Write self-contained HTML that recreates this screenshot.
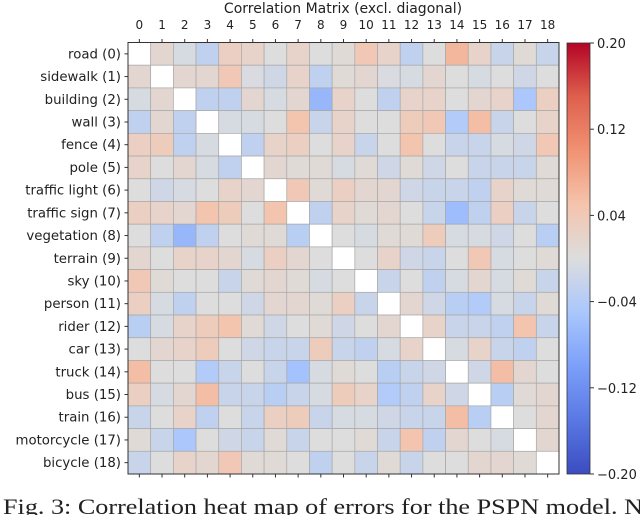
<!DOCTYPE html>
<html><head><meta charset="utf-8"><style>
body{margin:0;width:640px;height:515px;background:#fff;overflow:hidden;}
svg text{font-family:"DejaVu Sans","Liberation Sans",sans-serif;}
</style></head><body>
<svg id="chart" width="640" height="515" xmlns="http://www.w3.org/2000/svg">
<defs>
<linearGradient id="cbg" x1="0" y1="1" x2="0" y2="0">
<stop offset="0" stop-color="rgb(59,76,192)"/>
<stop offset="0.125" stop-color="rgb(90,120,228)"/>
<stop offset="0.25" stop-color="rgb(124,159,249)"/>
<stop offset="0.375" stop-color="rgb(170,199,253)"/>
<stop offset="0.5" stop-color="rgb(221,221,221)"/>
<stop offset="0.625" stop-color="rgb(244,196,173)"/>
<stop offset="0.75" stop-color="rgb(241,146,115)"/>
<stop offset="0.875" stop-color="rgb(222,96,77)"/>
<stop offset="1" stop-color="rgb(180,4,38)"/>
</linearGradient>
</defs>
<text x="343" y="13" font-size="14" text-anchor="middle" fill="#222">Correlation Matrix (excl. diagonal)</text>
<g id="cells"></g>
<g id="axes"></g>
<rect x="567" y="43" width="23" height="431" fill="url(#cbg)" stroke="#333" stroke-width="0.8"/>
<g id="cbticks"></g>
<text x="3" y="514" font-size="22" textLength="640" lengthAdjust="spacingAndGlyphs" fill="#222" style="font-family:'Liberation Serif',serif">Fig. 3: Correlation heat map of errors for the PSPN model. N</text>
</svg>
<script>
const categories=["road (0)","sidewalk (1)","building (2)","wall (3)","fence (4)","pole (5)","traffic light (6)","traffic sign (7)","vegetation (8)","terrain (9)","sky (10)","person (11)","rider (12)","car (13)","truck (14)","bus (15)","train (16)","motorcycle (17)","bicycle (18)"];
const row0=[null,0.014,-0.007,-0.028,0.028,0.021,0,0.021,0,0.007,0.042,0.021,-0.028,0,0.063,0.021,-0.021,0.007,-0.021];
const row1=[0.014,null,0.014,0.014,0.042,-0.004,-0.014,0.021,-0.028,0.007,0.014,-0.004,-0.007,0.014,0,-0.007,0,-0.014,0];
const row2=[-0.007,0.014,null,-0.028,-0.028,0.014,-0.007,0.014,-0.07,0.021,0,-0.028,0.021,0.021,0,0.014,0.021,-0.049,0.028];
const row3=[-0.028,0.014,-0.028,null,-0.007,-0.007,0,0.049,-0.021,0.021,0,0,0.035,0.042,-0.042,0.056,-0.021,0,0.021];
const row4=[0.028,0.035,-0.028,-0.007,null,-0.028,0.021,0.028,0,0.021,-0.021,0,0.049,0,-0.021,-0.021,-0.007,-0.014,0.042];
const row5=[0.021,0,0.014,-0.007,-0.028,null,0.014,0.007,0.007,-0.007,0.007,-0.014,0.007,-0.014,0,-0.021,-0.021,-0.021,0.007];
const row6=[0,-0.014,-0.007,0,0.021,0.014,null,0.042,0.007,0.028,0.014,0.014,-0.014,-0.021,-0.021,-0.028,0.021,0.007,0.007];
const row7=[0.028,0.021,0.014,0.049,0.035,0,0.049,null,-0.028,0.021,0.007,0.014,0,-0.021,-0.063,-0.028,0.028,-0.021,0];
const row8=[0,-0.028,-0.07,-0.028,0,0.007,0.007,-0.035,null,0,-0.007,0.007,0.007,0.035,-0.007,-0.007,-0.014,0,-0.035];
const row9=[0.014,0,0.021,0.021,0.014,-0.007,0.028,0.014,0,null,0,0.021,-0.014,-0.021,0,0.042,-0.007,0,0.007];
const row10=[0.042,0.007,0,0,-0.021,0.007,0.014,0.007,-0.007,0,null,-0.021,0,-0.028,-0.007,0.014,-0.007,0.007,-0.021];
const row11=[0.028,-0.007,-0.028,0,0,-0.014,0.014,0.014,0.007,0.028,-0.021,null,0.014,-0.014,-0.035,-0.042,-0.007,-0.021,0.007];
const row12=[-0.035,-0.007,0.021,0.035,0.049,0.007,-0.014,0,0.007,-0.014,0,0.014,null,0.021,-0.021,-0.021,-0.028,0.049,-0.021];
const row13=[0,0.014,0.021,0.035,0,-0.014,-0.021,-0.021,0.035,-0.021,-0.028,-0.007,0.021,null,-0.007,0.021,-0.021,-0.028,0];
const row14=[0.056,0,0,-0.042,-0.021,0,-0.021,-0.056,-0.007,0.007,0,-0.035,-0.021,-0.014,null,-0.014,0.056,0.014,0];
const row15=[0.028,-0.007,0.014,0.056,-0.021,-0.021,-0.035,-0.021,-0.007,0.035,0.021,-0.042,-0.028,0.021,-0.014,null,-0.035,0.007,0.014];
const row16=[-0.021,0,0.021,-0.028,0,-0.021,0.028,0.035,-0.021,-0.007,-0.007,-0.014,-0.021,-0.021,0.056,-0.035,null,0,0.014];
const row17=[0.007,-0.021,-0.049,0,-0.014,-0.021,0.007,-0.021,0,0,0.007,-0.021,0.049,-0.028,0.014,0,-0.007,null,0.014];
const row18=[-0.021,0,0.021,0.014,0.042,0.007,0.007,0,-0.028,0,-0.021,0.007,-0.021,0,0,0.014,0.014,0.007,null];
const matrix=[row0,row1,row2,row3,row4,row5,row6,row7,row8,row9,row10,row11,row12,row13,row14,row15,row16,row17,row18];
const cbTicks=[0.20,0.12,0.04,-0.04,-0.12,-0.20];
const cbLabels=["0.20","0.12","0.04","\u22120.04","\u22120.12","\u22120.20"];

const NS="http://www.w3.org/2000/svg";
const X0=128,Y0=42.5,W=431,H=431.5,vmin=-0.2,vmax=0.2;
const n=categories.length,cw=W/n,ch=H/n;
const xs=i=>X0+i*cw, ys=j=>Y0+j*ch;
const cbY=v=>43+(vmax-v)/(vmax-vmin)*431;
const stops=[[0,[59,76,192]],[0.125,[90,120,228]],[0.25,[124,159,249]],[0.375,[170,199,253]],[0.5,[221,221,221]],[0.625,[244,196,173]],[0.75,[241,146,115]],[0.875,[222,96,77]],[1,[180,4,38]]];
function cmap(v){let t=(v-vmin)/(vmax-vmin);t=Math.max(0,Math.min(1,t));
 for(let k=1;k<stops.length;k++){if(t<=stops[k][0]){const a=stops[k-1],b=stops[k],f=(t-a[0])/(b[0]-a[0]);
 return 'rgb('+a[1].map((c,i)=>Math.round(c+(b[1][i]-c)*f)).join(',')+')';}}return 'rgb(180,4,38)';}
function mk(tag,attrs,parent){const e=document.createElementNS(NS,tag);for(const k in attrs)e.setAttribute(k,attrs[k]);parent.appendChild(e);return e;}
const cells=document.getElementById('cells'),axes=document.getElementById('axes'),cbt=document.getElementById('cbticks');
matrix.forEach((row,j)=>row.forEach((v,i)=>{
 const r=mk('rect',{x:xs(i),y:ys(j),width:cw,height:ch,fill:v===null?'#fff':cmap(v),stroke:'#a8a8a8','stroke-width':0.7},cells);
 
 
}));
const frame=mk('rect',{x:X0,y:Y0,width:W,height:H,fill:'none',stroke:'#333','stroke-width':1},axes);


for(let i=0;i<n;i++){
 const cx=xs(i)+cw/2, cy=ys(i)+ch/2;
 mk('line',{x1:cx,x2:cx,y1:Y0,y2:Y0-3.5,stroke:'#333'},axes);
 mk('line',{x1:cx,x2:cx,y1:Y0+H,y2:Y0+H+3.5,stroke:'#333'},axes);
 mk('line',{x1:X0,x2:X0-3.5,y1:cy,y2:cy,stroke:'#333'},axes);
 const tx=mk('text',{x:cx,y:29,'font-size':12,'text-anchor':'middle',fill:'#222'},axes);
 tx.textContent=String(i);
 
 
 const ty=mk('text',{x:X0-7,y:cy+4.5,'font-size':13.3,'text-anchor':'end',fill:'#222'},axes);
 ty.textContent=categories[i];
 
 
}
cbTicks.forEach((v,k)=>{
 const y=cbY(v);
 mk('line',{x1:590,x2:594,y1:y,y2:y,stroke:'#333'},cbt);
 const t=mk('text',{x:597,y:y+5,'font-size':13,fill:'#222'},cbt);
 t.textContent=cbLabels[k];
 
 
});
</script>
</body></html>
